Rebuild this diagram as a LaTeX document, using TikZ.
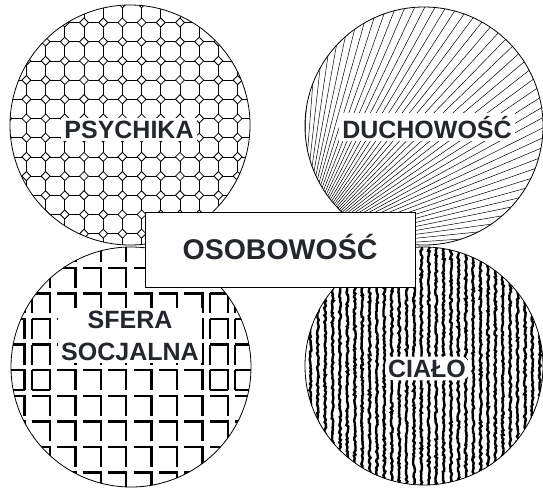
\documentclass[tikz,border=0pt]{standalone}
\usepackage{fontspec}
\setmainfont{Liberation Sans}
\usetikzlibrary{decorations.pathmorphing}
\definecolor{inkdark}{RGB}{35,38,42}
\tikzset{
  ring/.style={draw=black,line width=0.8pt},
  octline/.style={line width=0.8pt},
  ray/.style={line width=0.5pt},
  brick/.style={line width=2.4pt,line cap=butt,line join=miter},
  vein/.style={line width=2.4pt,decorate,decoration={random steps,segment length=2pt,amplitude=1pt}},
  tag/.style={fill=white,text=inkdark,inner sep=3pt,align=center,
    font=\bfseries\fontsize{25}{32}\selectfont},
}
\begin{document}
\begin{tikzpicture}[x=1pt,y=-1pt]
\useasboundingbox (0,0) rectangle (543,490);
\pgfmathsetseed{7}

% psychika - octagons
\begin{scope}
  \clip (130,125) circle (120);
  \foreach \i in {-4,...,9}
    \foreach \j in {-2,...,11}
    {
      \begin{scope}[shift={({84+19.2*\i},{41.7+19.2*\j})}]
        \draw[octline] (4.5,0) -- (0,4.5) -- (-4.5,0) -- (0,-4.5) -- cycle;
        \draw[octline] (4.5,0) -- (14.7,0) (0,4.5) -- (0,14.7);
      \end{scope}
    }
\end{scope}

% duchowosc - rays from a point below left
\coordinate (focus) at (300,250);
\begin{scope}
  \clip (424,126) circle (119);
  \foreach \k in {0,...,45}
    \draw[ray] (focus) -- ++({-(2+1.9*\k)}:420);
\end{scope}

% sfera socjalna - brackets
\begin{scope}
  \clip (131,367) circle (120);
  \foreach \i in {-2,...,8}
    \foreach \j in {-2,...,8}
      \draw[brick] ({50+25.4*\i-18},{293.3+25.6*\j}) -- ++(18,0) -- ++(0,20);
  \foreach \i/\j in {-1/0,0/0,7/0,8/0,-1/1,0/1,7/1,8/1,-1/2,0/2,7/2,8/2,-1/3,0/3,7/3,8/3}
    \draw[brick] ({50+25.4*\i-18},{293.3+25.6*\j}) -- ++(0,20);
  \foreach \i in {-1,0,7,8}
    \draw[brick] ({50+25.4*\i-18},{293.3+25.6*3+20}) -- ++(18,0);
\end{scope}

% cialo - veins
\begin{scope}
  \clip (424,366) circle (119);
  \foreach \k in {0,...,33}
    \draw[vein] ({303+7.4*\k},240) -- ({303+7.4*\k},492);
\end{scope}

\draw[ring] (130,125) circle (120);
\draw[ring] (424,126) circle (119);
\draw[ring] (131,367) circle (120);
\draw[ring] (424,366) circle (119);

\node[tag,anchor=base] (psychika) at (129,138) {PSYCHIKA};
\node[tag,anchor=base] (duch) at (427,138) {DUCHOWOŚĆ};
\node[tag,anchor=base] (sfera) at (130,360) {SFERA\\SOCJALNA};
\node[tag,anchor=base,rounded corners=8pt] (cialo) at (427,377) {CIAŁO};

\node[draw=black,line width=0.8pt,fill=white,text=inkdark,
  minimum width=270,minimum height=75,text height=20pt,text depth=0pt,
  font=\bfseries\fontsize{28.5}{34}\selectfont] (osoba) at (280,249.5) {OSOBOWOŚĆ};
\end{tikzpicture}
\end{document}
